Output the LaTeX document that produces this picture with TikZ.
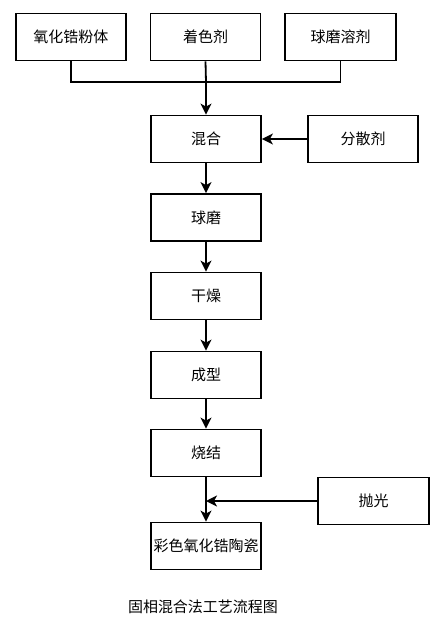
\documentclass[tikz,border=0pt]{standalone}
\usepackage{fontspec}
\newfontfamily\cjk{Noto Sans CJK SC}
\usetikzlibrary{arrows.meta}
\begin{document}
\begin{tikzpicture}[x=1pt,y=-1pt,
  box/.style={draw=black,line width=1.8pt,minimum width=110pt,minimum height=47pt,inner sep=0pt,font=\cjk\fontsize{15}{17}\selectfont},
  conn/.style={line width=1.8pt},
  arr/.style={conn,-{Stealth[length=11pt,width=11pt,inset=3pt]}}]
\fill[white] (0,0) rectangle (440,625);
\useasboundingbox (0,0) rectangle (440,625);
\node[box] (b1) at (71,37) {氧化锆粉体};
\node[box] (b2) at (205.5,37) {着色剂};
\node[box,minimum width=111pt] (b3) at (340.5,37) {球磨溶剂};
\node[box] (mix) at (206,139) {混合};
\node[box] (disp) at (363,139) {分散剂};
\node[box] (ball) at (206,217.5) {球磨};
\node[box] (dry) at (206,296) {干燥};
\node[box] (form) at (206,375) {成型};
\node[box] (sint) at (206,453) {烧结};
\node[box,minimum width=111pt] (pol) at (373.5,501) {抛光};
\node[box] (fin) at (206,546) {彩色氧化锆陶瓷};
\node[font=\cjk\fontsize{15}{17}\selectfont] (cap) at (203,607) {固相混合法工艺流程图};
\coordinate (j) at (206,82);
\draw[conn] (b1.south) |- (j) -| (b3.south);
\draw[conn] (b2.south) -- (j);
\draw[arr] (j) -- (mix.north);
\draw[arr] (disp.west) -- (mix.east);
\draw[arr] (mix) -- (ball);
\draw[arr] (ball) -- (dry);
\draw[arr] (dry) -- (form);
\draw[arr] (form) -- (sint);
\draw[arr] (sint) -- (fin);
\draw[arr] (pol.west) -- (pol.west -| sint.south);
\end{tikzpicture}
\end{document}
